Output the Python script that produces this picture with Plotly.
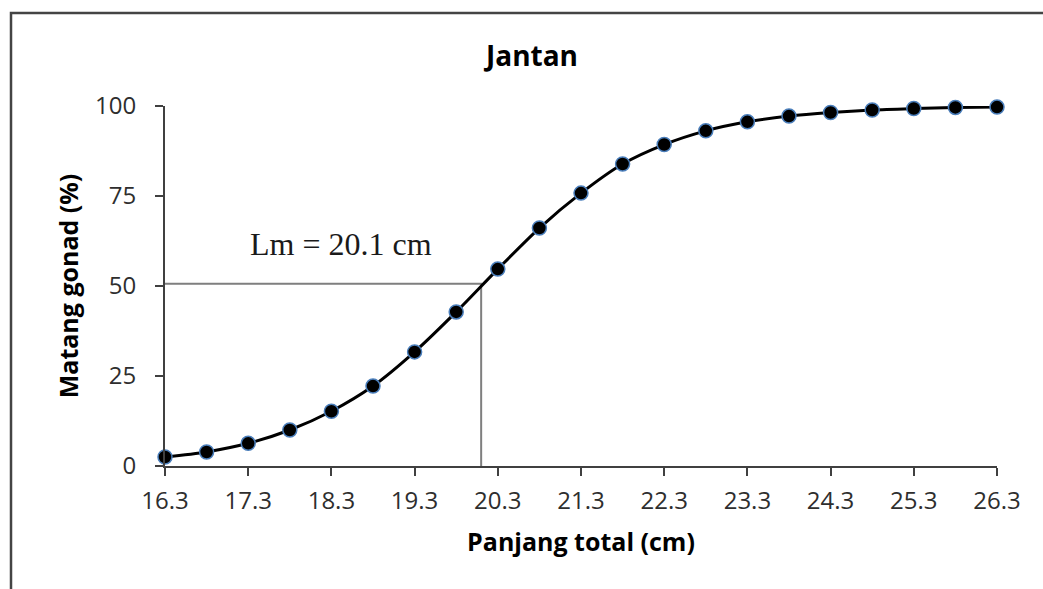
import plotly.graph_objects as go

# Total length (cm) and percentage of mature gonads
panjang = [16.3, 16.8, 17.3, 17.8, 18.3, 18.8, 19.3, 19.8, 20.3, 20.8, 21.3,
           21.8, 22.3, 22.8, 23.3, 23.8, 24.3, 24.8, 25.3, 25.8, 26.3]
matang = [2.5, 3.9, 6.3, 10.0, 15.2, 22.2, 31.7, 42.8, 54.7, 66.1, 75.8,
          83.9, 89.3, 93.1, 95.6, 97.2, 98.2, 98.9, 99.3, 99.6, 99.7]

x_ticks = [16.3, 17.3, 18.3, 19.3, 20.3, 21.3, 22.3, 23.3, 24.3, 25.3, 26.3]
y_ticks = [0, 25, 50, 75, 100]

lm = 20.1          # length at first maturity
lm_pct = 50.6      # level of the guide line

W, H = 1043, 589
L, R, T, B = 165, 46, 106, 123
pw, ph = W - L - R, H - T - B

def px(xp):
    return (xp - L) / pw

def py(yp):
    return (H - B - yp) / ph

sans = "Open Sans, Lato, DejaVu Sans, sans-serif"
tick_col = "#2e2e2e"

fig = go.Figure()

# guide lines for Lm
fig.add_trace(go.Scatter(
    x=[x_ticks[0], lm, lm], y=[lm_pct, lm_pct, 0],
    mode="lines", line=dict(color="#7f7f7f", width=2),
    hoverinfo="skip", showlegend=False, cliponaxis=False))

# maturity curve
fig.add_trace(go.Scatter(
    x=panjang, y=matang, mode="lines+markers",
    line=dict(color="black", width=3, shape="spline", smoothing=0.8),
    marker=dict(size=14, color="black", line=dict(color="#4a7ebb", width=1.5)),
    showlegend=False, cliponaxis=False))

fig.update_xaxes(
    range=[x_ticks[0], x_ticks[-1]], tickvals=x_ticks,
    ticktext=[f"{v:.1f}" for v in x_ticks],
    showgrid=False, zeroline=False, showline=True, linecolor="#404040", linewidth=2,
    ticks="outside", ticklen=8, tickwidth=2, tickcolor="#404040",
    ticklabelstandoff=4,
    tickfont=dict(family=sans, size=24, color=tick_col),
    title=dict(text="<b>Panjang total (cm)</b>", font=dict(family=sans, size=25, color="black"),
               standoff=19))

fig.update_yaxes(
    range=[0, 100], tickvals=y_ticks,
    showgrid=False, zeroline=False, showline=True, linecolor="#404040", linewidth=2,
    ticks="outside", ticklen=8, tickwidth=2, tickcolor="#404040",
    ticklabelstandoff=14,
    tickfont=dict(family=sans, size=24, color=tick_col),
    title=dict(text="<b>Matang gonad (%)</b>", font=dict(family=sans, size=25, color="black"),
               standoff=9))

fig.update_layout(
    width=W, height=H,
    margin=dict(l=L, r=R, t=T, b=B),
    paper_bgcolor="white", plot_bgcolor="white",
    title=dict(text="<b>Jantan</b>", x=532 / W, xref="container", xanchor="center",
               y=1 - 56 / H, yref="container", yanchor="middle",
               font=dict(family=sans, size=28, color="black")),
    annotations=[dict(
        text=f"Lm = {lm} cm", x=px(341), y=py(244), xref="paper", yref="paper",
        showarrow=False, xanchor="center", yanchor="middle",
        font=dict(family="Liberation Serif, Times New Roman, serif", size=32, color="#1a1a1a"))],
    shapes=[dict(
        type="path", xref="paper", yref="paper",
        path=f"M {px(11)} {py(600)} L {px(11)} {py(13)} L {px(1060)} {py(13)}",
        line=dict(color="#444444", width=2.5))],
)

fig.write_html("out.html")
